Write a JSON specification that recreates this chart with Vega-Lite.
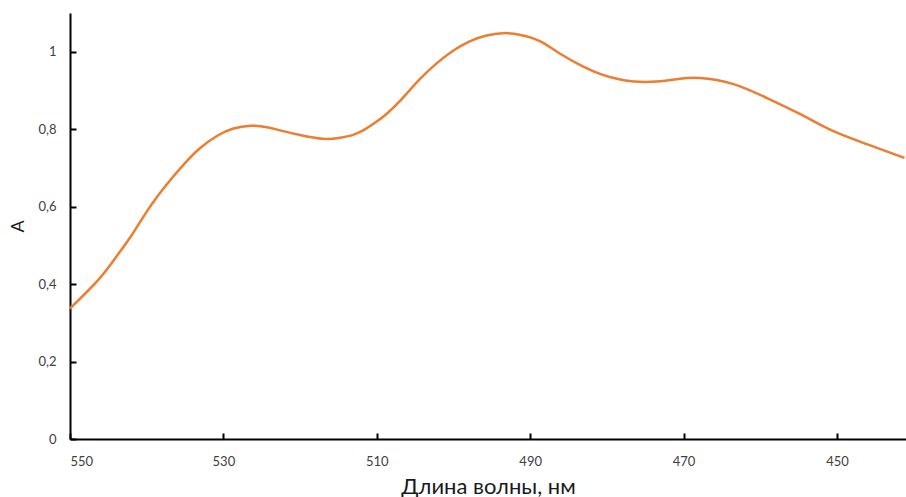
{
  "$schema": "https://vega.github.io/schema/vega-lite/v6.json",
  "width": 836,
  "height": 426,
  "autosize": {"type": "none"},
  "padding": {"left": 70, "top": 13, "right": 0, "bottom": 58},
  "background": "white",
  "config": {
    "view": {"stroke": null},
    "font": "Lato",
    "axis": {
      "grid": false,
      "domainColor": "#000000",
      "domainWidth": 2,
      "tickColor": "#000000",
      "tickWidth": 2,
      "tickSize": -6,
      "labelFont": "Lato",
      "labelFontSize": 13,
      "labelColor": "#404040",
      "titleFont": "Lato",
      "titleFontWeight": "normal",
      "titleColor": "#1a1a1a"
    }
  },
  "data": {
    "values": [
      {"nm": 550.0, "A": 0.337},
      {"nm": 546.4, "A": 0.409},
      {"nm": 544.1, "A": 0.467},
      {"nm": 541.9, "A": 0.528},
      {"nm": 539.8, "A": 0.593},
      {"nm": 537.4, "A": 0.657},
      {"nm": 535.3, "A": 0.706},
      {"nm": 533.1, "A": 0.750},
      {"nm": 530.8, "A": 0.783},
      {"nm": 528.8, "A": 0.801},
      {"nm": 526.5, "A": 0.809},
      {"nm": 524.3, "A": 0.805},
      {"nm": 522.6, "A": 0.797},
      {"nm": 520.0, "A": 0.785},
      {"nm": 517.0, "A": 0.775},
      {"nm": 515.0, "A": 0.777},
      {"nm": 513.0, "A": 0.786},
      {"nm": 511.5, "A": 0.800},
      {"nm": 510.2, "A": 0.817},
      {"nm": 508.7, "A": 0.840},
      {"nm": 506.6, "A": 0.881},
      {"nm": 504.4, "A": 0.929},
      {"nm": 502.2, "A": 0.970},
      {"nm": 500.1, "A": 1.002},
      {"nm": 497.9, "A": 1.027},
      {"nm": 495.7, "A": 1.042},
      {"nm": 493.6, "A": 1.048},
      {"nm": 491.4, "A": 1.044},
      {"nm": 488.8, "A": 1.028},
      {"nm": 486.2, "A": 0.996},
      {"nm": 483.2, "A": 0.963},
      {"nm": 480.9, "A": 0.943},
      {"nm": 478.7, "A": 0.930},
      {"nm": 476.5, "A": 0.923},
      {"nm": 473.5, "A": 0.923},
      {"nm": 470.5, "A": 0.930},
      {"nm": 467.9, "A": 0.932},
      {"nm": 463.6, "A": 0.917},
      {"nm": 459.2, "A": 0.881},
      {"nm": 454.9, "A": 0.840},
      {"nm": 450.6, "A": 0.796},
      {"nm": 446.2, "A": 0.762},
      {"nm": 441.2, "A": 0.726}
    ]
  },
  "mark": {"type": "line", "color": "#ED7D31", "strokeWidth": 2.5, "interpolate": "natural"},
  "encoding": {
    "x": {
      "field": "nm",
      "type": "quantitative",
      "scale": {"domain": [441, 550], "reverse": true, "nice": false, "zero": false},
      "axis": {
        "values": [550, 530, 510, 490, 470, 450],
        "title": "Длина волны, нм",
        "titleFontSize": 22,
        "titlePadding": 8,
        "labelPadding": 22,
        "format": "d"
      }
    },
    "y": {
      "field": "A",
      "type": "quantitative",
      "scale": {"domain": [0, 1.1], "nice": false},
      "axis": {
        "values": [0, 0.2, 0.4, 0.6, 0.8, 1],
        "labelExpr": "replace(format(datum.value, '.1~f'), '.', ',')",
        "title": "A",
        "titleFontSize": 18,
        "titlePadding": 10,
        "labelPadding": 20
      }
    }
  }
}
